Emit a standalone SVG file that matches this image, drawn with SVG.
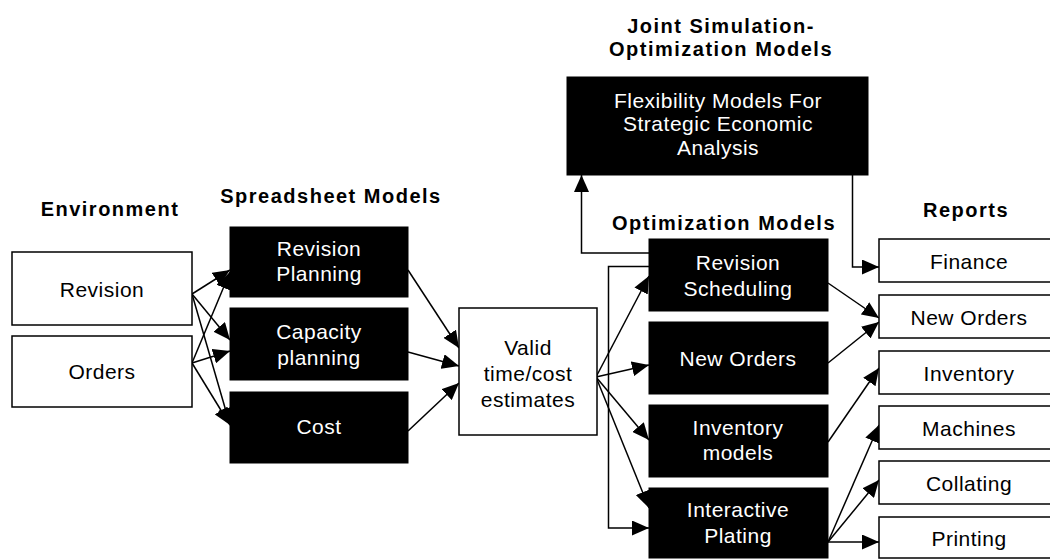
<svg xmlns="http://www.w3.org/2000/svg" width="1050" height="559" viewBox="0 0 1050 559">
<style>
text{font-family:"Liberation Sans",Arial,sans-serif;text-anchor:middle}
.h{font-size:20px;font-weight:bold;letter-spacing:1.5px;fill:#000}
.t{font-size:21px;letter-spacing:0.5px}
.w{fill:#fff}
.k{fill:#000}
.bw{fill:#fff;stroke:#000;stroke-width:1.5}
.bb{fill:#000;stroke:#000;stroke-width:1}
.c{fill:none;stroke:#000;stroke-width:1.5}
</style>
<defs>
<marker id="ah" viewBox="0 0 17 15" refX="17" refY="7.5" markerWidth="17" markerHeight="15" orient="auto" markerUnits="userSpaceOnUse"><path d="M0,0 L17,7.5 L0,15 z" fill="#000"/></marker>
</defs>
<rect width="1050" height="559" fill="#fff"/>

<g id="headers">
<text class="h" x="110" y="216">Environment</text>
<text class="h" x="331" y="203">Spreadsheet Models</text>
<text class="h" x="721" y="33">Joint Simulation-</text>
<text class="h" x="721" y="56">Optimization Models</text>
<text class="h" x="724" y="230">Optimization Models</text>
<text class="h" x="966" y="217">Reports</text>
</g>

<g id="connectors">
<line class="c" x1="192" y1="294" x2="230" y2="270" marker-end="url(#ah)"/>
<line class="c" x1="192" y1="363" x2="230" y2="272" marker-end="url(#ah)"/>
<line class="c" x1="192" y1="294" x2="230" y2="340" marker-end="url(#ah)"/>
<line class="c" x1="192" y1="363" x2="230" y2="351" marker-end="url(#ah)"/>
<line class="c" x1="192" y1="294" x2="230" y2="425" marker-end="url(#ah)"/>
<line class="c" x1="192" y1="363" x2="230" y2="425" marker-end="url(#ah)"/>
<line class="c" x1="408" y1="270" x2="459" y2="348" marker-end="url(#ah)"/>
<line class="c" x1="408" y1="352" x2="459" y2="366" marker-end="url(#ah)"/>
<line class="c" x1="408" y1="431" x2="459" y2="383" marker-end="url(#ah)"/>
<line class="c" x1="596" y1="377" x2="649" y2="276" marker-end="url(#ah)"/>
<line class="c" x1="596" y1="377" x2="649" y2="365" marker-end="url(#ah)"/>
<line class="c" x1="596" y1="377" x2="649" y2="440" marker-end="url(#ah)"/>
<line class="c" x1="596" y1="377" x2="649" y2="508" marker-end="url(#ah)"/>
<path class="c" d="M649,266.5 H608.5 V528 H649" marker-end="url(#ah)"/>
<path class="c" d="M649,253 H581.5 V175" marker-end="url(#ah)"/>
<path class="c" d="M852.5,175 V267 H879" marker-end="url(#ah)"/>
<line class="c" x1="828" y1="283" x2="879" y2="318" marker-end="url(#ah)"/>
<line class="c" x1="828" y1="363" x2="879" y2="322" marker-end="url(#ah)"/>
<line class="c" x1="828" y1="442" x2="879" y2="368" marker-end="url(#ah)"/>
<line class="c" x1="828" y1="542" x2="879" y2="425" marker-end="url(#ah)"/>
<line class="c" x1="828" y1="542" x2="879" y2="480" marker-end="url(#ah)"/>
<line class="c" x1="828" y1="542" x2="879" y2="542" marker-end="url(#ah)"/>
</g>

<g id="env-revision"><rect class="bw" x="12" y="252" width="180" height="73"/><text class="t k" x="102" y="297">Revision</text></g>
<g id="env-orders"><rect class="bw" x="12" y="336" width="180" height="71"/><text class="t k" x="102" y="379">Orders</text></g>

<g id="revision-planning"><rect class="bb" x="230" y="227" width="178" height="70"/><text class="t w" x="319" y="256">Revision</text><text class="t w" x="319" y="281">Planning</text></g>
<g id="capacity-planning"><rect class="bb" x="230" y="308" width="178" height="72"/><text class="t w" x="319" y="339">Capacity</text><text class="t w" x="319" y="365">planning</text></g>
<g id="cost"><rect class="bb" x="230" y="392" width="178" height="71"/><text class="t w" x="319" y="434">Cost</text></g>

<g id="valid"><rect class="bw" x="459" y="308" width="138" height="127"/><text class="t k" x="528" y="355">Valid</text><text class="t k" x="528" y="381">time/cost</text><text class="t k" x="528" y="407">estimates</text></g>

<g id="flexibility"><rect class="bb" x="567" y="77" width="301" height="98"/><text class="t w" x="718" y="108">Flexibility Models For</text><text class="t w" x="718" y="131">Strategic Economic</text><text class="t w" x="718" y="155">Analysis</text></g>

<g id="revision-scheduling"><rect class="bb" x="649" y="239" width="179" height="72"/><text class="t w" x="738" y="270">Revision</text><text class="t w" x="738" y="296">Scheduling</text></g>
<g id="new-orders-opt"><rect class="bb" x="649" y="322" width="179" height="72"/><text class="t w" x="738" y="366">New Orders</text></g>
<g id="inventory-models"><rect class="bb" x="649" y="405" width="179" height="72"/><text class="t w" x="738" y="435">Inventory</text><text class="t w" x="738" y="460">models</text></g>
<g id="interactive-plating"><rect class="bb" x="649" y="488" width="179" height="70"/><text class="t w" x="738" y="517">Interactive</text><text class="t w" x="738" y="543">Plating</text></g>

<g id="finance"><rect class="bw" x="879" y="239" width="180" height="43"/><text class="t k" x="969" y="269">Finance</text></g>
<g id="new-orders-rep"><rect class="bw" x="879" y="295" width="180" height="43"/><text class="t k" x="969" y="325">New Orders</text></g>
<g id="inventory"><rect class="bw" x="879" y="351" width="180" height="43"/><text class="t k" x="969" y="381">Inventory</text></g>
<g id="machines"><rect class="bw" x="879" y="406" width="180" height="43"/><text class="t k" x="969" y="436">Machines</text></g>
<g id="collating"><rect class="bw" x="879" y="461" width="180" height="43"/><text class="t k" x="969" y="491">Collating</text></g>
<g id="printing"><rect class="bw" x="879" y="517" width="180" height="41"/><text class="t k" x="969" y="546">Printing</text></g>
</svg>
